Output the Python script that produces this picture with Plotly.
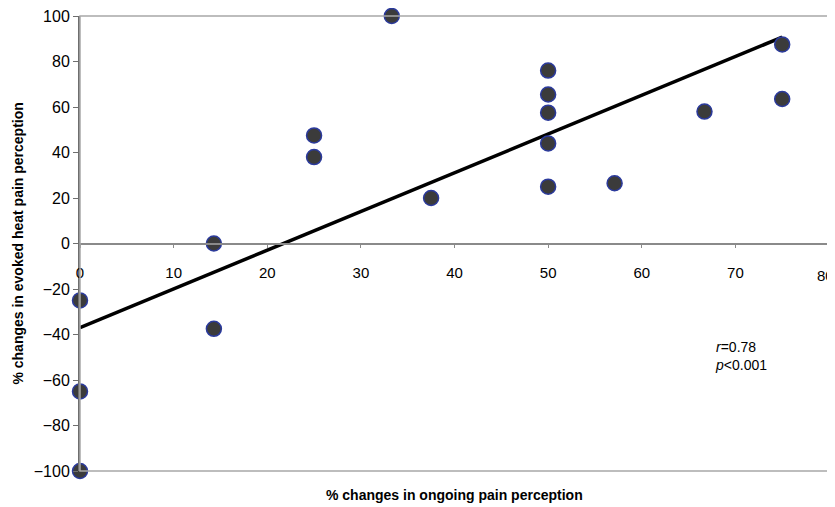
import plotly.graph_objects as go

# Data
ongoing = [0, 0, 0, 14.3, 14.3, 25, 25, 33.3, 37.5, 50, 50, 50, 50, 50, 57.1, 66.7, 75, 75]
evoked = [-25, -65, -100, 0, -37.5, 47.5, 38, 100, 20, 76, 65.5, 57.5, 44, 25, 26.5, 58, 87.5, 63.5]

fit_x = [0, 75]
fit_y = [-37, 90.7]

x_ticks = [0, 10, 20, 30, 40, 50, 60, 70, 80]
y_ticks = [-100, -80, -60, -40, -20, 0, 20, 40, 60, 80, 100]

FONT = "Liberation Sans, Arial, sans-serif"

fig = go.Figure()
fig.add_trace(go.Scatter(
    x=fit_x, y=fit_y, mode="lines",
    line=dict(color="black", width=3.5),
    showlegend=False, hoverinfo="skip",
))
fig.add_trace(go.Scatter(
    x=ongoing, y=evoked, mode="markers",
    marker=dict(size=15, color="#3b3b3b", line=dict(color="#2b3a9c", width=1.5)),
    showlegend=False, cliponaxis=False,
))

# page body adds an 8px offset, so the figure is 8px smaller than the window
fig.update_layout(
    width=827, height=499,
    margin=dict(l=72, r=6, t=8, b=36),
    plot_bgcolor="white", paper_bgcolor="white",
    font=dict(family=FONT, size=15, color="black"),
    xaxis=dict(
        range=[0, 80], tickvals=x_ticks[:-1], ticktext=[str(v) for v in x_ticks[:-1]],
        showgrid=False, zeroline=False, automargin=False,
        showline=True, linecolor="#8a8a8a", linewidth=1.5,
        anchor="free", position=0.5,
        ticks="outside", ticklen=4, tickcolor="#8a8a8a", tickwidth=1,
        tickfont=dict(size=15), ticklabelstandoff=12, ticklabeloverflow="allow",
    ),
    yaxis=dict(
        range=[-100, 100], tickvals=y_ticks,
        showgrid=False, zeroline=False, automargin=False,
        showline=True, linecolor="#6e6e6e", linewidth=2,
        ticks="outside", ticklen=5, tickcolor="#6e6e6e", tickwidth=1,
        tickfont=dict(size=16), ticklabeloverflow="allow",
    ),
    shapes=[dict(
        type="rect", xref="paper", yref="paper", x0=0, x1=1, y0=0, y1=1,
        line=dict(color="#a8a8a8", width=1.5), layer="above",
    )],
    annotations=[
        dict(text="<b>% changes in ongoing pain perception</b>", xref="paper", yref="paper",
             x=0.5, y=-0.053, xanchor="center", yanchor="middle", showarrow=False,
             font=dict(size=14)),
        dict(text="<b>% changes in evoked heat pain perception</b>", xref="paper", yref="paper",
             x=-0.084, y=0.5, xanchor="center", yanchor="middle", textangle=-90,
             showarrow=False, font=dict(size=14)),
        dict(text="80", xref="x", yref="y", x=80, y=0, yshift=-21, xshift=-14,
             xanchor="left", yanchor="top", showarrow=False, font=dict(size=15)),
        dict(text="<i>r</i>=0.78<br><i>p</i><0.001", xref="x", yref="y",
             x=67.6, y=-41, xanchor="left", yanchor="top", align="left",
             showarrow=False, font=dict(size=14)),
    ],
)

fig.write_html("out.html")
